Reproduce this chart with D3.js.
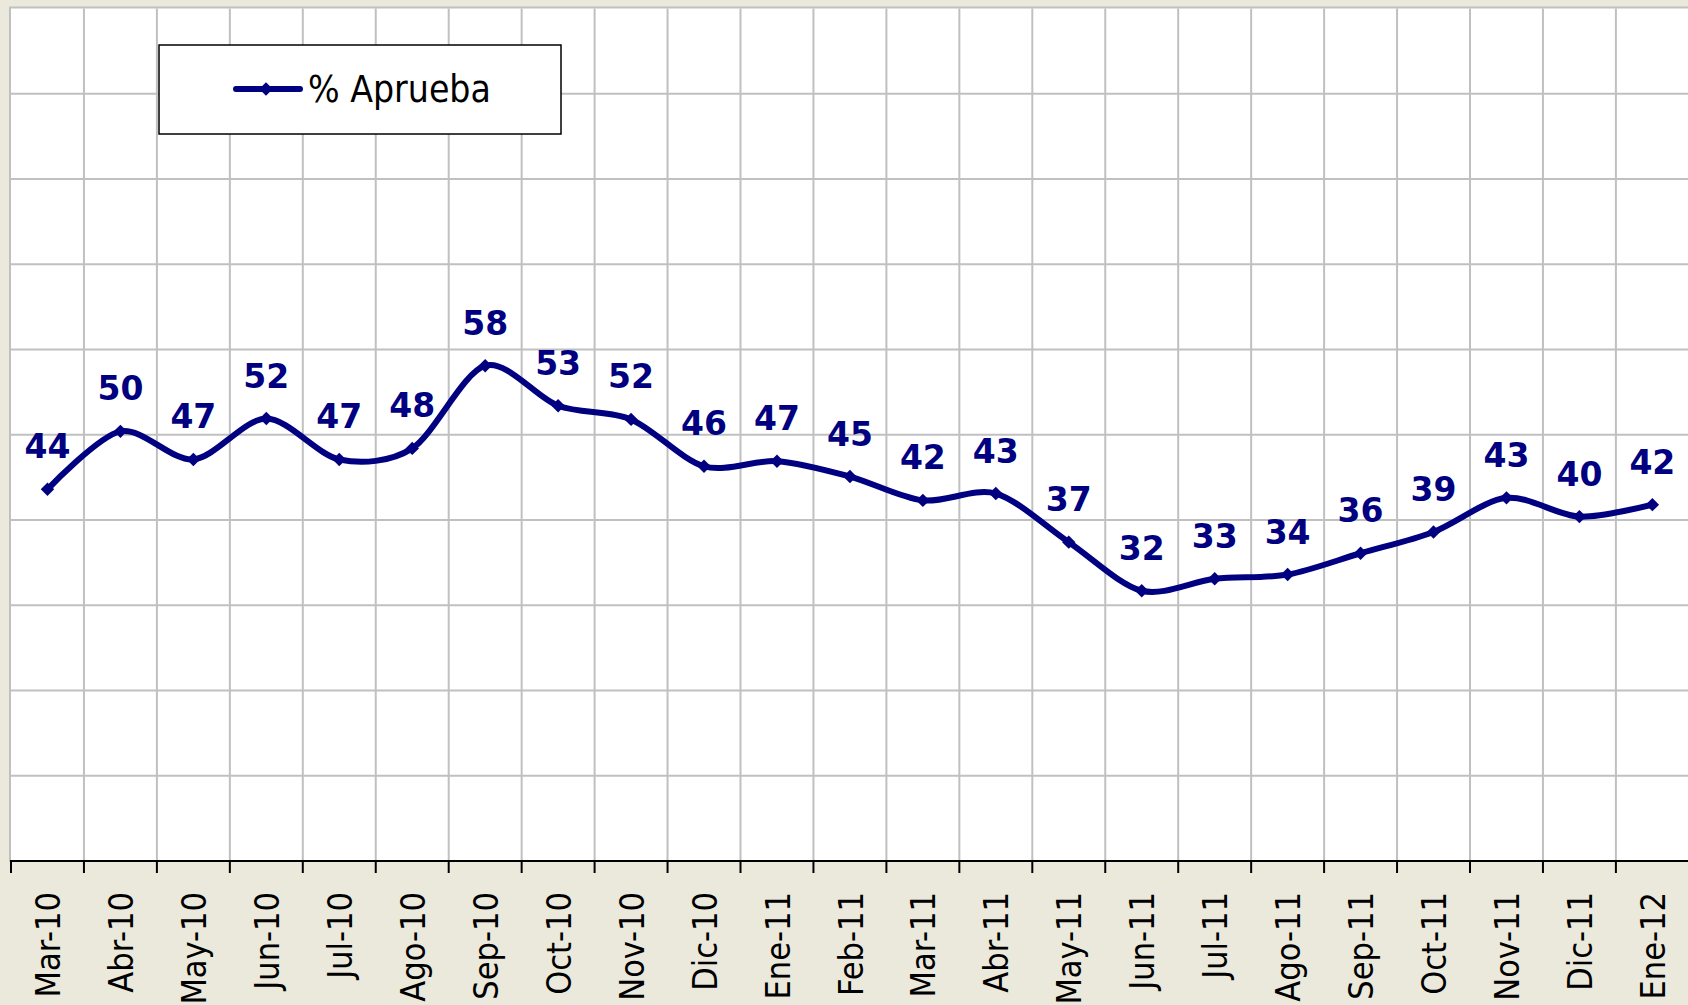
<!DOCTYPE html>
<html>
<head>
<meta charset="utf-8">
<script src="https://cdn.jsdelivr.net/npm/d3@7"></script>
<style>
  html, body { margin: 0; padding: 0; background: #ebe9dc; overflow: hidden; }
  svg { display: block; }
</style>
</head>
<body>
<script>
// datos
const meses = ["Mar-10", "Abr-10", "May-10", "Jun-10", "Jul-10", "Ago-10", "Sep-10", "Oct-10",
  "Nov-10", "Dic-10", "Ene-11", "Feb-11", "Mar-11", "Abr-11", "May-11", "Jun-11", "Jul-11",
  "Ago-11", "Sep-11", "Oct-11", "Nov-11", "Dic-11", "Ene-12"];
const aprueba = [43.6, 50.4, 47.1, 51.9, 47.1, 48.4, 58.1, 53.4, 51.8, 46.3, 46.9, 45.1,
  42.3, 43.1, 37.4, 31.7, 33.1, 33.6, 36.1, 38.6, 42.6, 40.4, 41.8];
const yTicks = [0, 10, 20, 30, 40, 50, 60, 70, 80, 90, 100];
const serie = "% Aprueba";

const width = 1688, height = 1005;
const plotLeft = 11, plotTop = 8.5, plotBottom = 861;
const bandW = 72.95;
const plotRight = plotLeft + bandW * meses.length;
const navy = "#000080";

const svg = d3.select("body").append("svg")
    .attr("width", width)
    .attr("height", height);

svg.append("rect")
    .attr("width", width).attr("height", height)
    .attr("fill", "#ebe9dc");

const x = d3.scaleBand().domain(meses).range([plotLeft, plotRight]);
const y = d3.scaleLinear().domain([0, 100]).range([plotBottom, plotTop]);

// area del grafico
svg.append("rect")
    .attr("x", plotLeft - 1).attr("y", plotTop - 1)
    .attr("width", plotRight - plotLeft + 2).attr("height", plotBottom - plotTop + 1)
    .attr("fill", "#fff")
    .attr("stroke", "#c0c0c0")
    .attr("stroke-width", 2);

// lineas de grilla
const grid = svg.append("g").attr("stroke", "#c0c0c0").attr("stroke-width", 2);
grid.selectAll("line.h")
    .data(yTicks.slice(1, -1))
    .enter().append("line")
    .attr("class", "h")
    .attr("x1", plotLeft).attr("x2", plotRight)
    .attr("y1", d => y(d)).attr("y2", d => y(d));
grid.selectAll("line.v")
    .data(meses.slice(1))
    .enter().append("line")
    .attr("class", "v")
    .attr("x1", d => x(d)).attr("x2", d => x(d))
    .attr("y1", plotTop).attr("y2", plotBottom);

// eje x
const xAxis = svg.append("g")
    .attr("transform", `translate(0,${plotBottom})`);
xAxis.append("line")
    .attr("x1", plotLeft - 1).attr("x2", plotRight)
    .attr("stroke", "#000").attr("stroke-width", 2);
xAxis.selectAll("line.tick")
    .data(meses)
    .enter().append("line")
    .attr("class", "tick")
    .attr("x1", d => x(d)).attr("x2", d => x(d))
    .attr("y1", 0).attr("y2", 12)
    .attr("stroke", "#000").attr("stroke-width", 2);
xAxis.selectAll("text")
    .data(meses)
    .enter().append("text")
    .attr("transform", d => `translate(${x(d) + x.bandwidth() / 2},31) rotate(-90)`)
    .attr("dy", "0.37em")
    .attr("text-anchor", "end")
    .attr("font-family", "'DejaVu Sans Condensed', 'DejaVu Sans', sans-serif")
    .attr("font-size", 34)
    .attr("fill", "#000")
    .text(d => d);

// linea suavizada
const cx = (d, i) => x(meses[i]) + x.bandwidth() / 2;
const line = d3.line()
    .x(cx)
    .y(d => y(d))
    .curve(d3.curveCardinal.tension(0.1));

svg.append("path")
    .datum(aprueba)
    .attr("d", line)
    .attr("fill", "none")
    .attr("stroke", navy)
    .attr("stroke-width", 6)
    .attr("stroke-linejoin", "round");

const diamond = d3.symbol().type(d3.symbolSquare).size(90);
svg.selectAll("path.marker")
    .data(aprueba)
    .enter().append("path")
    .attr("class", "marker")
    .attr("d", diamond)
    .attr("transform", (d, i) => `translate(${cx(d, i)},${y(d)}) rotate(45)`)
    .attr("fill", navy);

// etiquetas de datos
svg.selectAll("text.lbl")
    .data(aprueba)
    .enter().append("text")
    .attr("class", "lbl")
    .attr("x", cx)
    .attr("y", d => y(d) - 31)
    .attr("text-anchor", "middle")
    .attr("font-family", "'DejaVu Sans', Verdana, sans-serif")
    .attr("font-weight", "bold")
    .attr("font-size", 33)
    .attr("fill", navy)
    .text(d => Math.round(d));

// leyenda
const leg = svg.append("g");
leg.append("rect")
    .attr("x", 159).attr("y", 45)
    .attr("width", 402).attr("height", 89)
    .attr("fill", "#fff")
    .attr("stroke", "#000")
    .attr("stroke-width", 1.5);
leg.append("line")
    .attr("x1", 236).attr("x2", 300)
    .attr("y1", 89).attr("y2", 89)
    .attr("stroke", navy).attr("stroke-width", 6)
    .attr("stroke-linecap", "round");
leg.append("path")
    .attr("d", diamond)
    .attr("transform", "translate(266,89) rotate(45)")
    .attr("fill", navy);
leg.append("text")
    .attr("x", 308).attr("y", 102)
    .attr("font-family", "'DejaVu Sans Condensed', 'DejaVu Sans', sans-serif")
    .attr("font-size", 37)
    .attr("fill", "#000")
    .text(serie);
</script>
</body>
</html>
